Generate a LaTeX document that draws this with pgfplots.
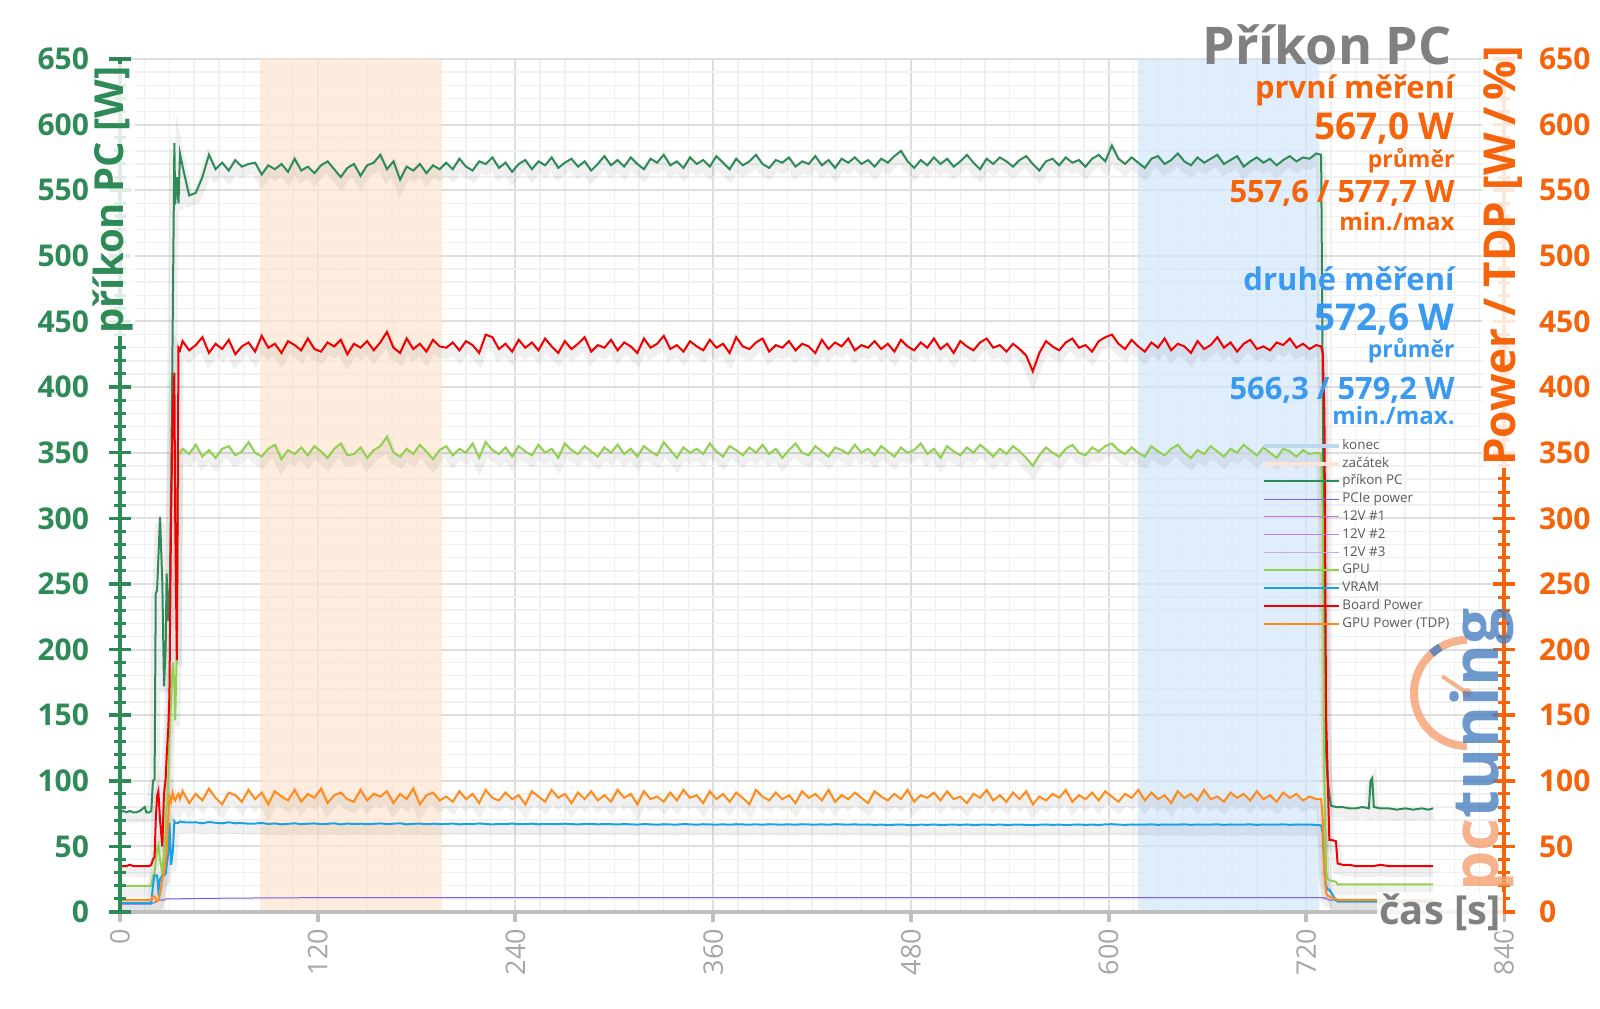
\documentclass[border=0pt]{standalone}
\usepackage{fontspec}
\setmainfont{Open Sans}
\usepackage{pgfplots}
\pgfplotsset{compat=1.18}
\usepackage{pgfplotstable}
\definecolor{pcgreen}{HTML}{2E8B57}
\definecolor{axorange}{HTML}{F5640A}
\definecolor{txtblue}{HTML}{3A9AF0}
\definecolor{gpugreen}{HTML}{92D050}
\definecolor{vramblue}{HTML}{1BA1E2}
\definecolor{boardred}{HTML}{F00000}
\definecolor{tdporange}{HTML}{FF8C1A}
\definecolor{pciepurple}{HTML}{7B61E8}
\definecolor{vone}{HTML}{D070D0}
\definecolor{vtwo}{HTML}{C080E8}
\definecolor{vthree}{HTML}{C8A8F0}
\definecolor{konecc}{HTML}{BDD7EE}
\definecolor{zacc}{HTML}{FBE5D6}
\definecolor{shadeor}{HTML}{FDE6D0}
\definecolor{shadebl}{HTML}{D3E6FA}
\definecolor{majgrid}{HTML}{DEDEDE}
\definecolor{mingrid}{HTML}{F0F0F0}
\definecolor{axgray}{HTML}{BFBFBF}
\definecolor{labgray}{HTML}{A6A6A6}
\definecolor{titlegray}{HTML}{808080}
\definecolor{leggray}{HTML}{595959}
\definecolor{logoor}{HTML}{F4A070}
\definecolor{logobl}{HTML}{4A7FC0}

\pgfplotstableread{
t pc pcie gpu vram board tdp
0 76 6 20 7 35 9
2 77 6 20 7 35 9
4 76 6 20 7 35 9
6 77 6 20 7 36 9
8 76 6 20 7 35 9
10 76 6 20 7 35 9
12 77 6 20 7 35 9
14 79 6 20 7 35 9
15 80 6 20 7 35 9
16 76 6 20 7 35 9
18 76 6 20 7 35 9
19 77 6 20 7 36 9
20 100 7 27 20 40 12
21 101 7 30 28 42 12
21.7 243 8 40 28 70 10
22.5 245 8 48 28 88 8
23.3 270 9 51 16 92 9
24.3 301 9 40 25 70 14
25.7 250 9 30 28 50 25
26.7 172 9 45 28 90 30
27.7 200 10 60 29 101 40
28.3 258 10 80 35 118 45
29.3 222 10 100 45 140 70
30 230 10 130 68 165 88
31 314 10 160 36 300 84
32 450 10 190 45 380 91
33 586 10 175 69 411 86
33.5 539 10 146 68 300 85
34.5 560 10 200 68 192 88
35.5 540 10 348 68 430 90
36.4 578 10 350 69 428 86
38 568 10.2 353 68.5 435 92
42 546 10.2 349 68.2 428 83
46 548 10.3 356 68.4 432 90
50 560 10.3 347 67.6 438 85
54 577 10.4 352 68.6 426 94
58 566 10.4 346 68 433 87
62 571 10.5 353 67.6 429 82
66 565 10.5 355 68.4 436 91
70 573 10.6 348 67.6 425 89
74 568 10.6 351 67.8 431 84
78 570 10.6 358 67.3 434 93
82 571 10.7 350 67.4 427 86
86 562 10.7 347 67.9 439 91
90 569 10.7 353 67.1 430 82
94 566 10.8 356 67.5 433 92
98 570 10.8 345 66.8 426 88
102 564 10.8 352 67.2 435 85
106 574 10.8 349 67.6 432 93
110 565 10.9 354 66.9 428 84
114 568 10.9 348 67.3 437 90
118 563 10.9 355 67.5 429 87
122 569 10.9 351 67.0 427 94
126 572 11 346 67.2 434 83
130 566 11 353 67.6 431 89
134 560 11 357 66.8 436 91
138 567 11 348 67.4 425 86
142 570 11 349 67.1 433 84
146 561 11 354 67.3 430 93
150 569 11 346 66.9 435 85
154 571 11 352 67.2 428 90
158 577 11 355 67.5 434 88
162 566 11 362 67.0 442 92
166 572 11 350 67.3 430 83
170 558 11 347 67.6 426 90
174 568 11 353 66.8 437 86
178 565 11 349 67.2 429 94
182 570 11 356 67.4 433 82
186 563 11 351 66.9 427 89
190 569 11 345 67.3 436 91
194 566 11 352 67.0 431 85
198 571 11 355 67.1 430 88
202 566 11 348 67.4 434 84
206 574 11 353 66.8 428 92
210 568 11 350 67.2 435 86
214 565 11 357 67.0 432 90
218 572 11 346 67.5 426 83
222 570 11 358 67.1 440 93
226 575 11 352 66.7 438 87
230 567 11 349 67.2 429 85
234 571 11 354 67.0 433 91
238 564 11 347 67.4 427 86
242 570 11 355 66.9 436 89
246 573 11 351 67.1 430 82
250 566 11 348 67.3 434 92
254 572 11 356 66.8 428 88
258 569 11 350 67.2 437 84
262 575 11 353 67.0 431 93
266 567 11 346 66.9 426 87
270 571 11 357 67.3 435 90
274 574 11 352 67.0 429 83
278 568 11 349 66.7 433 91
282 572 11 355 67.1 438 86
286 565 11 351 67.2 427 92
290 570 11 347 66.8 432 85
294 576 11 354 67.0 430 89
298 569 11 350 66.9 436 84
302 573 11 356 66.7 428 93
306 568 11 349 67.0 434 87
310 575 11 353 66.8 431 90
314 570 11 347 66.6 426 82
318 566 11 355 67.0 437 92
322 574 11 351 66.8 430 86
326 571 11 348 66.5 433 88
330 577 11 358 66.9 439 84
334 569 11 352 66.7 429 91
338 572 11 346 66.6 432 85
342 567 11 354 67.0 427 93
346 575 11 350 66.8 435 87
350 570 11 353 66.5 431 89
354 573 11 349 66.9 428 83
358 568 11 357 66.7 436 92
362 576 11 351 66.6 430 86
366 571 11 347 66.8 433 90
370 566 11 355 66.5 426 84
374 574 11 352 66.9 438 91
378 569 11 348 66.7 431 87
382 572 11 354 66.6 429 82
386 577 11 350 66.8 434 93
390 570 11 356 66.5 437 88
394 567 11 349 66.9 427 85
398 573 11 353 66.7 432 91
402 571 11 346 66.6 430 86
406 575 11 352 66.8 435 89
410 568 11 357 66.5 428 83
414 572 11 350 66.9 433 92
418 570 11 348 66.7 431 87
422 576 11 355 66.6 426 90
426 569 11 351 66.8 436 85
430 573 11 347 66.5 429 93
434 567 11 354 66.9 434 84
438 574 11 352 66.7 431 89
442 571 11 349 66.6 437 86
446 575 11 356 66.8 428 91
450 570 11 350 66.5 432 87
454 573 11 353 66.7 430 83
458 568 11 348 66.4 435 92
462 574 11 355 66.6 429 88
466 571 11 351 66.3 433 85
470 576 11 347 66.5 427 90
474 580 11 354 66.7 436 86
478 572 11 350 66.4 431 93
482 567 11 352 66.2 428 84
486 573 11 357 66.6 434 89
490 569 11 349 66.4 430 87
494 575 11 353 66.7 437 91
498 570 11 346 66.3 429 85
502 574 11 355 66.5 433 92
506 568 11 351 66.6 426 86
510 572 11 348 66.4 435 88
514 577 11 354 66.7 431 83
518 571 11 350 66.3 428 90
522 566 11 356 66.5 434 87
526 574 11 352 66.6 437 93
530 570 11 347 66.4 430 85
534 575 11 353 66.7 432 89
538 572 11 349 66.3 427 84
542 568 11 355 66.5 433 91
546 573 11 351 66.6 429 86
550 576 11 346 66.4 424 92
554 570 11 340 66.2 412 82
558 565 11 348 66.5 426 88
562 572 11 354 66.7 435 85
566 574 11 350 66.4 431 90
570 569 11 347 66.6 428 87
574 575 11 353 66.3 434 93
578 571 11 356 66.5 437 84
582 573 11 350 66.7 430 89
586 568 11 348 66.4 432 86
590 574 11 354 66.6 427 91
594 577 11 351 66.3 435 85
598 572 11 355 66.8 438 92
602 584 11 357 66.9 440 88
606 574 11 352 66.6 433 84
610 570 11 349 66.4 429 90
614 575 11 354 66.7 436 87
618 571 11 350 66.5 431 93
622 567 11 347 66.6 427 85
626 574 11 355 66.8 434 91
630 576 11 351 66.4 430 86
634 570 11 348 66.7 437 89
638 573 11 353 66.5 428 83
642 578 11 356 66.6 433 92
646 572 11 350 66.8 431 87
650 569 11 346 66.4 426 90
654 575 11 352 66.7 435 85
658 571 11 349 66.5 429 93
662 574 11 355 66.6 432 86
666 577 11 351 66.8 438 88
670 570 11 347 66.4 430 84
674 573 11 353 66.7 434 91
678 576 11 350 66.5 427 87
682 568 11 356 66.6 433 90
686 572 11 352 66.8 436 85
690 575 11 348 66.4 429 92
694 571 11 354 66.7 431 86
698 574 11 350 66.5 428 89
702 569 11 346 66.6 434 84
706 573 11 353 66.8 432 91
710 576 11 351 66.4 437 87
714 572 11 347 66.7 430 90
718 575 11 352 66.5 433 85
722 574 11 349 66.6 429 88
726 578 11 350 66.4 432 86
729 577 11 349 66 431 86
730 400 11 300 60 425 70
731 200 11 100 30 380 30
732 120 10 30 20 150 15
733 100 10 25 17 102 12
734 90 9 24 17 55 12
735 81 9 24 15 55 11
738 80 9 23 9 54 10
739 80 9 21 8 37 9
742 80 9 21 8 36 9
746 79 9 21 8 36 9
750 79 9 21 8 35 9
754 80 9 21 8 35 9
758 79 9 21 8 35 9
759 100 9 21 8 35 9
760 102 9 21 8 35 9
761 80 9 21 8 35 9
765 79 9 21 8 36 9
770 79 9 21 8 35 9
775 78 9 21 8 35 9
780 79 9 21 8 35 9
785 78 9 21 8 35 9
790 79 9 21 8 35 9
794 78 9 21 8 35 9
797 79 9 21 8 35 9
}\data

\pgfplotsset{commonax/.style={at={(60pt,48pt)}, anchor=south west,
  width=692pt, height=426.5pt, scale only axis,
  xmin=0, xmax=840, ymin=0, ymax=650,
  xtick={0,120,...,840}, ytick={0,50,...,650},
  minor x tick num=7, minor y tick num=4,
  /pgf/number format/assume math mode=true},
  shadow/.style={black, opacity=0.06, line width=5pt, forget plot, yshift=-3pt}}

\begin{document}
\begin{tikzpicture}
\useasboundingbox (0,0) rectangle (800pt,504pt);
% main axis: grid, shading, series, legend
\begin{axis}[commonax,
  grid=both,
  major grid style={draw=majgrid, line width=1pt},
  minor grid style={draw=mingrid, line width=0.7pt},
  axis line style={draw=none},
  major tick style={draw=none}, minor tick style={draw=none},
  xticklabel={\empty}, yticklabel={\empty},
  legend style={at={(0.825,0.556)}, anchor=north west, draw=none, fill=none,
    inner sep=0pt, font=\fontsize{6.7}{8}\selectfont, text=leggray,
    nodes={inner sep=0.6pt, text height=5pt, text depth=1.4pt},
    row sep=1.3pt},
  legend cell align=left,
  legend image code/.code={\draw[#1] (0pt,0pt) -- (37.5pt,0pt);},
]
\addplot[draw=none, fill=shadeor, fill opacity=0.7, forget plot] coordinates {(85,0) (85,650) (195,650) (195,0) (85,0)};
\addplot[draw=none, fill=shadebl, fill opacity=0.7, forget plot] coordinates {(618,0) (618,650) (728,650) (728,0) (618,0)};
% soft drop shadows under the main series
\addplot[shadow] table[x=t, y=pc] {\data};
\addplot[shadow] table[x=t, y=gpu] {\data};
\addplot[shadow] table[x=t, y=board] {\data};
\addplot[shadow] table[x=t, y=tdp] {\data};
\addplot[shadow] table[x=t, y=vram] {\data};
\addlegendimage{konecc, line width=2pt}
\addlegendentry{konec}
\addlegendimage{zacc, line width=2pt}
\addlegendentry{začátek}
\addplot[pcgreen, line width=1pt] table[x=t, y=pc] {\data};
\addlegendentry{příkon PC}
\addplot[pciepurple, line width=0.5pt] table[x=t, y=pcie] {\data};
\addlegendentry{PCIe power}
\addlegendimage{vone, line width=0.5pt}
\addlegendentry{12V \#1}
\addlegendimage{vtwo, line width=0.5pt}
\addlegendentry{12V \#2}
\addlegendimage{vthree, line width=0.5pt}
\addlegendentry{12V \#3}
\addplot[gpugreen, line width=1pt] table[x=t, y=gpu] {\data};
\addlegendentry{GPU}
\addplot[vramblue, line width=1pt] table[x=t, y=vram] {\data};
\addlegendentry{VRAM}
\addplot[boardred, line width=1pt] table[x=t, y=board] {\data};
\addlegendentry{Board Power}
\addplot[tdporange, line width=1pt] table[x=t, y=tdp] {\data};
\addlegendentry{GPU Power (TDP)}
\end{axis}
% x axis
\begin{axis}[commonax, axis x line*=bottom, axis y line=none,
  ymajorticks=false, yminorticks=false,
  axis line style={draw=axgray, line width=2pt},
  tick align=outside, major tick length=5pt, minor tick length=0pt,
  major tick style={draw=axgray, line width=2pt}, minor tick style={draw=none},
  xticklabel style={rotate=90, anchor=east, font=\fontsize{13.5}{16}\selectfont, text=labgray},
]
\addplot[draw=none] coordinates {(0,0) (840,650)};
\end{axis}
% left y axis
\begin{axis}[commonax, axis y line*=left, axis x line=none,
  xmajorticks=false, xminorticks=false,
  axis line style={draw=pcgreen, line width=1.75pt},
  tick align=center, major tick length=11pt, minor tick length=6pt,
  major tick style={draw=pcgreen, line width=1.75pt},
  minor tick style={draw=pcgreen, line width=1.5pt},
  yticklabel style={font=\bfseries\fontsize{15}{17}\selectfont, text=pcgreen, xshift=-6.5pt},
]
\addplot[draw=none] coordinates {(0,0) (840,650)};
\end{axis}
% right y axis
\begin{axis}[commonax, axis y line*=right, axis x line=none,
  xmajorticks=false, xminorticks=false,
  axis line style={draw=axorange, line width=1.75pt},
  tick align=center, major tick length=11pt, minor tick length=6pt,
  major tick style={draw=axorange, line width=1.75pt},
  minor tick style={draw=axorange, line width=1.5pt},
  yticklabel style={font=\bfseries\fontsize{15}{17}\selectfont, text=axorange, xshift=8.5pt},
]
\addplot[draw=none] coordinates {(0,0) (840,650)};
\end{axis}
% logo watermark
\begin{scope}[opacity=0.8]
\draw[logoor, line width=4pt] (733.5pt,184pt) arc[start angle=90, end angle=270, radius=26.5pt];
\draw[logobl, line width=4pt] (733.5pt,157.5pt) ++(120:26.5pt) arc[start angle=120, end angle=132, radius=26.5pt];
\draw[logoor, line width=2pt] (733.5pt,157.5pt) -- ++(146:15pt);
\fill[logoor] (733.5pt,157.5pt) circle (2.5pt);
\node[rotate=90, anchor=base west, font=\bfseries\fontsize{32}{32}\selectfont, inner sep=0pt] at (749pt,58pt) {\textcolor{logoor}{pc}\textcolor{logobl}{tuning}};
\end{scope}
% axis titles
\node[rotate=90, font=\bfseries\fontsize{20}{22}\selectfont, text=pcgreen, fill=white, fill opacity=0.85, text opacity=1, inner sep=1pt] at (56.5pt,404pt) {příkon PC [W]};
\node[rotate=90, font=\bfseries\fontsize{22}{24}\selectfont, text=axorange, fill=white, fill opacity=0.85, text opacity=1, inner sep=1pt] at (751.5pt,376pt) {Power / TDP [W\,/\,\%]};
\node[font=\bfseries\fontsize{20}{22}\selectfont, text=titlegray, fill=white, fill opacity=0.85, text opacity=1, inner sep=1pt] at (720pt,48pt) {čas [s]};
% titles and statistics
\node[anchor=base east, font=\bfseries\fontsize{26}{28}\selectfont, text=titlegray, inner sep=0pt] at (726pt,471.5pt) {Příkon PC};
\node[anchor=base east, font=\bfseries\fontsize{15.5}{17}\selectfont, text=axorange, inner sep=0pt] at (727.5pt,454.5pt) {první měření};
\node[anchor=base east, font=\bfseries\fontsize{18.5}{20}\selectfont, text=axorange, inner sep=0pt] at (727.5pt,434pt) {567,0 W};
\node[anchor=base east, font=\bfseries\fontsize{11.5}{13}\selectfont, text=axorange, inner sep=0pt] at (727.5pt,420pt) {průměr};
\node[anchor=base east, font=\bfseries\fontsize{15.4}{17}\selectfont, text=axorange, inner sep=0pt] at (727.5pt,402.5pt) {557,6 / 577,7 W};
\node[anchor=base east, font=\bfseries\fontsize{12}{13}\selectfont, text=axorange, inner sep=0pt] at (727.5pt,388.5pt) {min./max};
\node[anchor=base east, font=\bfseries\fontsize{15.5}{17}\selectfont, text=txtblue, inner sep=0pt] at (727.5pt,358.5pt) {druhé měření};
\node[anchor=base east, font=\bfseries\fontsize{18.5}{20}\selectfont, text=txtblue, inner sep=0pt] at (727.5pt,338.5pt) {572,6 W};
\node[anchor=base east, font=\bfseries\fontsize{11.5}{13}\selectfont, text=txtblue, inner sep=0pt] at (727.5pt,325pt) {průměr};
\node[anchor=base east, font=\bfseries\fontsize{15.4}{17}\selectfont, text=txtblue, inner sep=0pt] at (727.5pt,304pt) {566,3 / 579,2 W};
\node[anchor=base east, font=\bfseries\fontsize{12}{13}\selectfont, text=txtblue, inner sep=0pt] at (727.5pt,291.5pt) {min./max.};
\end{tikzpicture}
\end{document}
